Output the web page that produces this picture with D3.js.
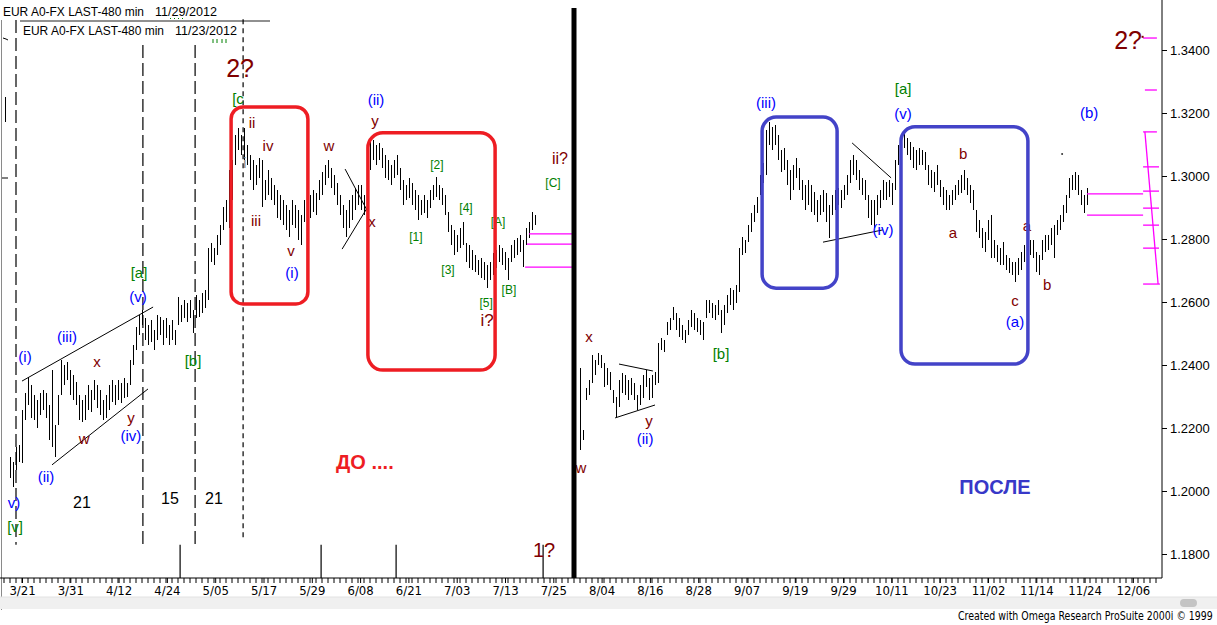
<!DOCTYPE html>
<html><head><meta charset="utf-8">
<script src="https://cdn.jsdelivr.net/npm/d3@7"></script>
<style>
html,body{margin:0;padding:0;background:#fff;overflow:hidden}
svg{display:block}
</style></head><body>
<svg id="c" width="1217" height="625"></svg>
<script>
// ---------- DATA ----------
const leftHigh=[1.2108,1.2092,1.2140,1.2146,1.2257,1.2311,1.2362,1.2337,1.2305,1.2289,
1.2311,1.2321,1.2311,1.2273,1.2384,1.2210,1.2305,1.2416,1.2400,1.2410,
1.2384,1.2368,1.2346,1.2305,1.2289,1.2305,1.2337,1.2321,1.2352,1.2337,
1.2321,1.2289,1.2305,1.2337,1.2352,1.2337,1.2352,1.2343,1.2359,1.2343,
1.2416,1.2463,1.2521,1.2559,1.2575,1.2549,1.2527,1.2543,1.2511,1.2559,
1.2552,1.2543,1.2549,1.2527,1.2543,1.2511,1.2616,1.2590,1.2606,1.2597,
1.2606,1.2575,1.2622,1.2606,1.2629,1.2638,1.2771,1.2787,1.2771,1.2813,
1.2844,1.2902,1.2924,1.3019,1.3051,1.3130,1.3152,1.3130,1.3152,1.3098,
1.3067,1.3051,1.3035,1.3057,1.3051,1.2987,1.3019,1.2994,1.2971,1.2956,
1.2940,1.2924,1.2908,1.2892,1.2924,1.2908,1.2892,1.2876,1.2924,1.2908,
1.2940,1.2956,1.2946,1.2987,1.3013,1.3035,1.3051,1.3025,1.3003,1.2978,
1.2940,1.2908,1.2892,1.2924,1.2940,1.2962,1.2971,1.2971,1.2940,1.3035,
1.3114,1.3114,1.3098,1.3105,1.3089,1.3067,1.3051,1.3035,1.3051,1.3067,
1.3025,1.2987,1.2971,1.2994,1.2978,1.2956,1.2940,1.2924,1.2940,1.2924,
1.2956,1.2971,1.2997,1.2971,1.2962,1.2940,1.2886,1.2844,1.2829,1.2813,
1.2835,1.2854,1.2787,1.2781,1.2765,1.2749,1.2733,1.2740,1.2727,1.2717,
1.2727,1.2756,1.2765,1.2781,1.2771,1.2759,1.2740,1.2781,1.2797,1.2803,
1.2813,1.2797,1.2835,1.2854,1.2886,1.2876];
const leftLow=[1.2041,1.2013,1.2067,1.2092,1.2089,1.2225,1.2273,1.2232,1.2225,1.2200,
1.2241,1.2257,1.2232,1.2162,1.2140,1.2108,1.2210,1.2305,1.2337,1.2352,
1.2305,1.2289,1.2273,1.2225,1.2219,1.2225,1.2257,1.2251,1.2289,1.2264,
1.2241,1.2225,1.2232,1.2257,1.2283,1.2273,1.2289,1.2280,1.2295,1.2299,
1.2337,1.2400,1.2448,1.2495,1.2527,1.2479,1.2463,1.2473,1.2448,1.2479,
1.2495,1.2463,1.2486,1.2463,1.2479,1.2463,1.2527,1.2536,1.2549,1.2536,
1.2549,1.2502,1.2549,1.2552,1.2565,1.2581,1.2606,1.2727,1.2717,1.2749,
1.2781,1.2829,1.2854,1.2835,1.2924,1.3035,1.3083,1.3067,1.3051,1.3035,
1.2987,1.2956,1.2971,1.2994,1.2902,1.2924,1.2940,1.2924,1.2908,1.2867,
1.2860,1.2844,1.2829,1.2806,1.2844,1.2835,1.2797,1.2781,1.2854,1.2844,
1.2867,1.2886,1.2876,1.2924,1.2940,1.2971,1.2994,1.2962,1.2940,1.2908,
1.2876,1.2835,1.2806,1.2835,1.2860,1.2892,1.2908,1.2892,1.2876,1.2892,
1.3019,1.3051,1.3035,1.3051,1.3025,1.2994,1.2987,1.2971,1.2994,1.3003,
1.2956,1.2908,1.2924,1.2930,1.2908,1.2892,1.2860,1.2876,1.2883,1.2867,
1.2898,1.2924,1.2933,1.2924,1.2908,1.2876,1.2822,1.2781,1.2749,1.2759,
1.2771,1.2781,1.2727,1.2708,1.2702,1.2695,1.2686,1.2676,1.2670,1.2644,
1.2670,1.2686,1.2708,1.2727,1.2717,1.2702,1.2670,1.2727,1.2740,1.2749,
1.2759,1.2711,1.2781,1.2803,1.2829,1.2844];
const rightHigh=[1.2391,1.2194,1.2327,1.2352,1.2432,1.2416,1.2438,1.2432,1.2406,1.2390,
1.2378,1.2321,1.2299,1.2352,1.2375,1.2368,1.2352,1.2359,1.2343,1.2305,
1.2337,1.2368,1.2384,1.2359,1.2368,1.2378,1.2470,1.2486,1.2479,1.2536,
1.2549,1.2584,1.2565,1.2549,1.2527,1.2511,1.2543,1.2575,1.2565,1.2549,
1.2543,1.2536,1.2606,1.2606,1.2597,1.2590,1.2606,1.2575,1.2590,1.2622,
1.2644,1.2638,1.2654,1.2771,1.2806,1.2797,1.2844,1.2883,1.2908,1.2933,
1.3003,1.3041,1.3146,1.3171,1.3156,1.3162,1.3130,1.3083,1.3089,1.3051,
1.3019,1.3035,1.3057,1.3025,1.2987,1.2971,1.2987,1.2971,1.2949,1.2924,
1.2940,1.2956,1.2946,1.2908,1.2940,1.2956,1.2962,1.2956,1.2971,1.3003,
1.3051,1.3067,1.3051,1.3019,1.2994,1.2987,1.2940,1.2924,1.2924,1.2940,
1.2956,1.2987,1.2981,1.2987,1.2978,1.3051,1.3098,1.3130,1.3140,1.3121,
1.3108,1.3092,1.3083,1.3089,1.3083,1.3076,1.3035,1.3019,1.3013,1.3035,
1.2987,1.2965,1.2956,1.2940,1.2956,1.2971,1.2987,1.3003,1.3019,1.2994,
1.2971,1.2956,1.2892,1.2860,1.2835,1.2822,1.2860,1.2876,1.2797,1.2781,
1.2771,1.2790,1.2749,1.2740,1.2727,1.2727,1.2740,1.2759,1.2781,1.2803,
1.2797,1.2797,1.2759,1.2749,1.2797,1.2813,1.2813,1.2835,1.2844,1.2860,
1.2876,1.2908,1.2940,1.2994,1.3003,1.3013,1.3003,1.2956,1.2940,1.2962];
const rightLow=[1.2130,1.2162,1.2289,1.2305,1.2343,1.2368,1.2400,1.2390,1.2330,1.2337,
1.2321,1.2280,1.2235,1.2267,1.2311,1.2305,1.2289,1.2305,1.2289,1.2257,
1.2273,1.2295,1.2330,1.2289,1.2295,1.2337,1.2343,1.2448,1.2441,1.2495,
1.2511,1.2543,1.2511,1.2489,1.2479,1.2470,1.2495,1.2521,1.2511,1.2505,
1.2495,1.2479,1.2549,1.2565,1.2549,1.2543,1.2559,1.2502,1.2527,1.2565,
1.2590,1.2575,1.2597,1.2632,1.2749,1.2756,1.2790,1.2822,1.2854,1.2883,
1.2940,1.2978,1.3003,1.3098,1.3083,1.3098,1.3051,1.3013,1.3019,1.2971,
1.2924,1.2956,1.2994,1.2956,1.2924,1.2892,1.2908,1.2886,1.2876,1.2854,
1.2876,1.2886,1.2854,1.2803,1.2876,1.2892,1.2908,1.2898,1.2924,1.2940,
1.2978,1.3003,1.2987,1.2956,1.2940,1.2924,1.2867,1.2844,1.2835,1.2876,
1.2898,1.2924,1.2924,1.2933,1.2908,1.2956,1.3035,1.3083,1.3089,1.3067,
1.3051,1.3025,1.3019,1.3035,1.3035,1.3019,1.2971,1.2962,1.2949,1.2971,
1.2933,1.2908,1.2892,1.2892,1.2908,1.2924,1.2940,1.2946,1.2956,1.2940,
1.2914,1.2892,1.2822,1.2803,1.2771,1.2759,1.2797,1.2740,1.2740,1.2727,
1.2717,1.2717,1.2702,1.2692,1.2686,1.2663,1.2686,1.2702,1.2727,1.2749,
1.2749,1.2740,1.2695,1.2686,1.2733,1.2759,1.2765,1.2781,1.2740,1.2813,
1.2829,1.2854,1.2883,1.2930,1.2956,1.2956,1.2940,1.2908,1.2883,1.2908];
const stubBar=[-1.7,1.3251,1.3171];   // slot, high, low (back window edge)
const leftStart=0, rightStart=190;

const dateLabels=["3/21","3/31","4/12","4/24","5/05","5/17","5/29","6/08","6/21","7/03","7/13","7/25",
"8/04","8/16","8/28","9/07","9/19","9/29","10/11","10/23","11/02","11/14","11/24","12/06"];
const dateSlots=[4,20.1,36.2,52.3,68.4,84.5,100.6,116.7,132.8,148.9,165,181.1,
197.2,213.3,229.4,245.5,261.6,277.7,293.8,309.9,326,342.1,358.2,374.3];
const priceTicks=[1.18,1.20,1.22,1.24,1.26,1.28,1.30,1.32,1.34];

// wave labels: text, slot, price, colour key, font size
const waveLabels=[
["(i)",5,1.2426,"b",15],["(ii)",12,1.2045,"b",15],["(iii)",19,1.2489,"b",15],["(iv)",40.3,1.2175,"b",15],
["(v)",42.7,1.2619,"b",15],["v)",1.3,1.1965,"b",15],["[v]",1.7,1.1886,"g",15],
["x",29,1.2410,"r",15],["w",24.7,1.2168,"r",15],["y",40.3,1.2232,"r",15],
["[a]",43,1.2695,"g",15],["[b]",61,1.2413,"g",15],["[c",76,1.3247,"g",15],["2?",76.7,1.3343,"r",25],
["ii",80.7,1.3171,"r",15],["iv",86,1.3098,"r",15],["iii",82,1.2860,"r",15],["i",78.3,1.3041,"gr",14],
["v",93.7,1.2765,"r",15],["(i)",94,1.2695,"b",15],["w",106.3,1.3098,"r",15],["(ii)",122,1.3244,"b",15],
["y",121.7,1.3175,"r",15],["x",120.7,1.2854,"r",15],
["[1]",135.3,1.2806,"g",12],["[2]",142.3,1.3035,"g",12],["[3]",146,1.2702,"g",12],["[4]",152,1.2898,"g",12],
["[5]",158.7,1.2597,"g",12],["i?",159,1.2540,"r",17],["[A]",162.7,1.2854,"g",12],["[B]",166.3,1.2638,"g",12],
["[C]",181,1.2978,"g",12],["ii?",183.3,1.3057,"r",16],["1?",178,1.1813,"r",20],
["w",190.3,1.2076,"r",15],["x",193,1.2492,"r",15],["y",213,1.2225,"r",15],["(ii)",211.7,1.2168,"b",15],
["[b]",237,1.2435,"g",15],["(iii)",252,1.3232,"b",15],["[a]",297.7,1.3279,"g",15],["(v)",297.7,1.3200,"b",15],
["(iv)",291,1.2829,"b",15],["a",314.3,1.2822,"r",15],["b",317.7,1.3073,"r",15],["a",339,1.2844,"r",15],
["c",335,1.2606,"r",15],["(a)",335,1.2537,"b",15],["b",345.7,1.2657,"r",15],["(b)",359.7,1.3203,"b",15],
["2?",372.7,1.3432,"r",25]];
const countLabels=[["21",24,1.1965],["15",53.3,1.1975],["21",68,1.1975]];
const bigLabels=[["ДО ....",118.3,1.2092,"#ee1d23"],["ПОСЛЕ",328.3,1.2013,"#3838c8"]];

// lines: slot1, price1, slot2, price2
const trendLines=[[4,1.2349,47.7,1.2584],[14,1.2083,46,1.2324],[111.7,1.3022,119.3,1.2886],[110.7,1.2768,119,1.2898],
[203,1.2403,214.3,1.2381],[201.7,1.2232,215,1.2273],[280.7,1.3105,293.7,1.2994],[271,1.2790,291,1.2829]];
// vertical dashed lines: slot, top price, bottom price, dash
const dashedLines=[[2,1.3495,1.1829,"13,5"],[44.3,1.3416,1.1829,"13,5"],[61.7,1.3416,1.1829,"13,5"],[77.7,1.3498,1.1844,"5,4"]];
const shortLines=[56.7,103.7,128.7,177.7];
const dividerSlot=188;
// boxes: slot1, price top, slot2, price bottom, corner radius
const redBoxes=[[73.7,1.3219,99.3,1.2594,12],[119.3,1.3137,161.7,1.2384,15]];
const blueBoxes=[[250.7,1.3187,275.7,1.2644,14],[297,1.3156,339.3,1.2403,14]];
// magenta levels: price, slot start, slot end
const magentaLevels=[[1.2816,173,187.3],[1.2784,172.3,187.3],[1.2711,171.7,187.3],[1.2943,359,377.7],[1.2876,359,377.7],
[1.3438,377.7,382.3],[1.3273,378.3,382.3],[1.3140,377.7,382.3],[1.3029,377.7,383],[1.2952,377.7,383],
[1.2898,377.7,383],[1.2844,377.7,383],[1.2771,377.7,383],[1.2657,377.7,383.3]];
const magentaSlant=[378.3,1.3140,382.7,1.2657];
const dotMark=[350.7,1.3070];

// ---------- DRAW ----------
const W=1217,H=625;
const svg=d3.select("#c");
const x=d3.scaleLinear().domain([0,359]).range([10,1087]);
const y=d3.scaleLinear().domain([1.18,1.34]).range([554,50]);
const axisY=578, axisX=1162;
const FONT="'Liberation Sans',Arial,sans-serif";
const NARROW="'Liberation Sans Narrow','DejaVu Sans Condensed','Liberation Sans',Arial,sans-serif";
const col={b:"#0000ff",r:"#800000",g:"#008000",gr:"#808080"};

svg.append("rect").attr("width",W).attr("height",H).attr("fill","#fff");

// header
const hdr=svg.append("g").attr("font-family",FONT).attr("font-size",13).attr("fill","#000");
hdr.append("text").attr("x",3).attr("y",16).attr("textLength",141).attr("lengthAdjust","spacingAndGlyphs").text("EUR A0-FX LAST-480 min");
hdr.append("text").attr("x",155).attr("y",16).attr("textLength",62).attr("lengthAdjust","spacingAndGlyphs").text("11/29/2012");
svg.append("line").attr("x1",170).attr("x2",184).attr("y1",18.5).attr("y2",18.5)
  .attr("stroke","#008000").attr("stroke-dasharray","1,3");
svg.append("line").attr("x1",20).attr("x2",270).attr("y1",21).attr("y2",21).attr("stroke","#909090").attr("stroke-width",2);
hdr.append("text").attr("x",23).attr("y",35).attr("textLength",141).attr("lengthAdjust","spacingAndGlyphs").text("EUR A0-FX LAST-480 min");
hdr.append("text").attr("x",175).attr("y",35).attr("textLength",62).attr("lengthAdjust","spacingAndGlyphs").text("11/23/2012");
svg.selectAll(".gt").data([213,217,222,226]).enter().append("line")
  .attr("x1",d=>d).attr("x2",d=>d).attr("y1",39).attr("y2",43).attr("stroke","#008000");

// left window edge
svg.append("line").attr("x1",1.5).attr("x2",1.5).attr("y1",20).attr("y2",610).attr("stroke","#8a8a8a");
svg.append("line").attr("x1",2).attr("x2",8).attr("y1",178).attr("y2",178).attr("stroke","#000");
svg.append("path").attr("d","M3,38 L6,39 L8,40").attr("stroke","#000").attr("fill","none");

// dashed verticals
svg.selectAll(".dl").data(dashedLines).enter().append("line")
  .attr("x1",d=>x(d[0])).attr("x2",d=>x(d[0])).attr("y1",d=>y(d[1])).attr("y2",d=>y(d[2]))
  .attr("stroke","#000").attr("stroke-width",1.2).attr("stroke-dasharray",d=>d[3]);
svg.selectAll(".sl").data(shortLines).enter().append("line")
  .attr("x1",d=>x(d)).attr("x2",d=>x(d)).attr("y1",y(1.1829)).attr("y2",axisY)
  .attr("stroke","#000").attr("stroke-width",1.2);

// bars
const bars=[];
leftHigh.forEach((h,i)=>bars.push({s:leftStart+i,h:h,l:leftLow[i]}));
rightHigh.forEach((h,i)=>bars.push({s:rightStart+i,h:h,l:rightLow[i]}));
bars.push({s:stubBar[0],h:stubBar[1],l:stubBar[2]});
svg.append("g").attr("shape-rendering","crispEdges").selectAll("line").data(bars).enter().append("line")
  .attr("x1",d=>Math.round(x(d.s))+0.5).attr("x2",d=>Math.round(x(d.s))+0.5).attr("y1",d=>y(d.h)).attr("y2",d=>y(d.l))
  .attr("stroke","#000").attr("stroke-width",1);

// trend lines
svg.selectAll(".tl").data(trendLines).enter().append("line")
  .attr("x1",d=>x(d[0])).attr("y1",d=>y(d[1])).attr("x2",d=>x(d[2])).attr("y2",d=>y(d[3]))
  .attr("stroke","#000").attr("stroke-width",1);

// magenta
svg.selectAll(".ml").data(magentaLevels).enter().append("line")
  .attr("x1",d=>x(d[1])).attr("x2",d=>x(d[2])).attr("y1",d=>y(d[0])).attr("y2",d=>y(d[0]))
  .attr("stroke","#ff00ff").attr("stroke-width",1.3);
svg.append("line").attr("x1",x(magentaSlant[0])).attr("y1",y(magentaSlant[1]))
  .attr("x2",x(magentaSlant[2])).attr("y2",y(magentaSlant[3])).attr("stroke","#ff00ff").attr("stroke-width",1.3);
svg.append("circle").attr("cx",x(dotMark[0])).attr("cy",y(dotMark[1])).attr("r",1).attr("fill","#333");
svg.append("rect").attr("x",x(377.2)).attr("y",y(1.3445)).attr("width",2).attr("height",2).attr("fill","#800000");

// labels
svg.append("g").selectAll("text").data(waveLabels).enter().append("text")
  .attr("x",d=>x(d[1])).attr("y",d=>y(d[2])).attr("text-anchor","middle").attr("dominant-baseline","central")
  .attr("font-family",FONT).attr("font-size",d=>d[4]).attr("fill",d=>col[d[3]]).text(d=>d[0]);
svg.append("g").selectAll("text").data(countLabels).enter().append("text")
  .attr("x",d=>x(d[1])).attr("y",d=>y(d[2])).attr("text-anchor","middle").attr("dominant-baseline","central")
  .attr("font-family",FONT).attr("font-size",16).attr("fill","#000").text(d=>d[0]);
svg.append("g").selectAll("text").data(bigLabels).enter().append("text")
  .attr("x",d=>x(d[1])).attr("y",d=>y(d[2])).attr("text-anchor","middle").attr("dominant-baseline","central")
  .attr("font-family",FONT).attr("font-weight","bold").attr("font-size",20).attr("fill",d=>d[3]).text(d=>d[0]);

// boxes
function boxes(data,color){
  svg.append("g").selectAll("rect").data(data).enter().append("rect")
    .attr("x",d=>x(d[0])).attr("y",d=>y(d[1])).attr("width",d=>x(d[2])-x(d[0])).attr("height",d=>y(d[3])-y(d[1]))
    .attr("rx",d=>d[4]).attr("ry",d=>d[4]).attr("fill","none").attr("stroke",color).attr("stroke-width",3.5);
}
boxes(redBoxes,"#ee1d23");
boxes(blueBoxes,"#4343c8");

// divider
svg.append("line").attr("x1",x(dividerSlot)).attr("x2",x(dividerSlot)).attr("y1",8).attr("y2",axisY)
  .attr("stroke","#000").attr("stroke-width",5);

// right axis
svg.append("line").attr("x1",axisX).attr("x2",axisX).attr("y1",0).attr("y2",axisY).attr("stroke","#000");
const ya=svg.append("g").attr("transform",`translate(${axisX},0)`)
  .call(d3.axisRight(y).tickValues(priceTicks).tickFormat(d3.format(".4f")).tickSize(5).tickPadding(3));
ya.select(".domain").remove();
ya.selectAll("text").attr("font-family",FONT).attr("font-size",13).attr("fill","#000");

// bottom axis
svg.append("line").attr("x1",0).attr("x2",axisX).attr("y1",axisY).attr("y2",axisY).attr("stroke","#000");
const minor=d3.range(-2,385,2).filter(s=>x(s)<axisX-1);
svg.append("g").selectAll("line").data(minor).enter().append("line")
  .attr("x1",d=>x(d)).attr("x2",d=>x(d)).attr("y1",axisY).attr("y2",axisY+5).attr("stroke","#000");
const xa=svg.append("g").attr("transform",`translate(0,${axisY})`)
  .call(d3.axisBottom(x).tickValues(dateSlots).tickFormat((d,i)=>dateLabels[i]).tickSize(5).tickPadding(3));
xa.select(".domain").remove();
xa.selectAll("text").attr("font-family",NARROW).attr("font-size",13).attr("fill","#000");

// scrollbar + footer
svg.append("rect").attr("x",0).attr("y",597).attr("width",W).attr("height",12).attr("fill","#f0f0f0");
svg.append("line").attr("x1",0).attr("x2",W).attr("y1",597).attr("y2",597).attr("stroke","#e2e2e2");
svg.append("rect").attr("x",1180).attr("y",599).attr("width",17).attr("height",8).attr("rx",4).attr("fill","#c4c4c4");
const foot=svg.append("text").attr("font-family",NARROW).attr("font-size",12).attr("fill","#000")
  .text("Created with Omega Research ProSuite 2000i © 1999");
const fw=foot.node().getComputedTextLength();
const fs=Math.min(1,255/fw);
foot.attr("transform",`translate(${1213-255},620) scale(${fs},1)`);
</script>
</body></html>
